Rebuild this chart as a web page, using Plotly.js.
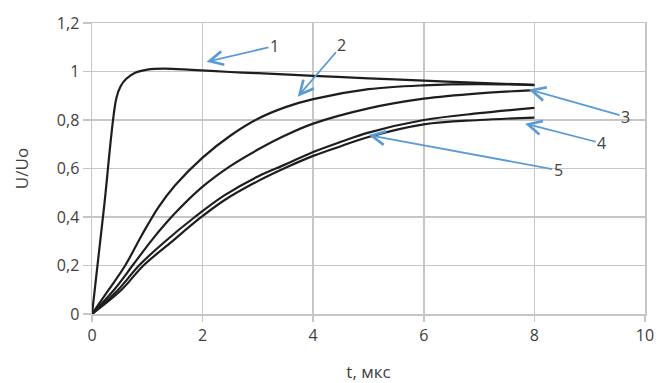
<!DOCTYPE html>
<html>
<head>
<meta charset="utf-8">
<script src="https://cdn.plot.ly/plotly-3.0.1.min.js"></script>
<style>html,body{margin:0;padding:0;background:#fff;}#chart{width:657px;height:383px;}</style>
</head>
<body>
<div id="chart"></div>
<script>
// Curve 1
var t1 = [0, 0.22, 0.44, 0.52, 0.62, 0.78, 1.0, 1.3, 1.8, 2.5, 3, 4, 5, 6, 7, 8];
var u1 = [0, 0.445, 0.89, 0.94, 0.97, 0.995, 1.008, 1.012, 1.007, 0.998, 0.993, 0.982, 0.972, 0.962, 0.953, 0.945];
// Curve 2
var t2 = [0, 0.3, 0.6, 0.9, 1.2, 1.5, 2, 2.5, 3, 3.5, 4, 5, 6, 7, 8];
var u2 = [0, 0.099, 0.2, 0.325, 0.44, 0.53, 0.645, 0.735, 0.805, 0.853, 0.886, 0.927, 0.943, 0.948, 0.944];
// Curve 3
var t3 = [0, 0.4, 0.75, 1.1, 1.5, 2, 2.5, 3, 3.5, 4, 5, 6, 7, 8];
var u3 = [0, 0.1, 0.205, 0.31, 0.415, 0.525, 0.61, 0.678, 0.737, 0.785, 0.848, 0.888, 0.91, 0.923];
// Curve 4 (upper of the pair)
var t4 = [0, 0.47, 0.85, 1.3, 1.86, 2.4, 3, 3.5, 4, 4.5, 5, 6, 7, 8];
var u4 = [0, 0.099, 0.2, 0.295, 0.4, 0.49, 0.567, 0.617, 0.668, 0.71, 0.748, 0.8, 0.828, 0.85];
// Curve 5 (lower of the pair)
var t5 = [0, 0.53, 0.93, 1.4, 1.95, 2.4, 3, 3.5, 4, 4.5, 5, 6, 7, 8];
var u5 = [0, 0.099, 0.2, 0.29, 0.395, 0.47, 0.548, 0.603, 0.652, 0.692, 0.73, 0.782, 0.8, 0.81];

var xTicks = [0, 2, 4, 6, 8, 10];
var yTicks = [0, 0.2, 0.4, 0.6, 0.8, 1, 1.2];
var labels = ['1', '2', '3', '4', '5'];

var lineStyle = {color: '#1e1e1e', width: 2.2, shape: 'spline', smoothing: 1};
var series = [[t1, u1], [t2, u2], [t3, u3], [t4, u4], [t5, u5]];
var data = series.map(function (s) {
  return {x: s[0], y: s[1], type: 'scatter', mode: 'lines', line: lineStyle, hoverinfo: 'skip'};
});

var arrowColor = '#5b9bd5';
function ann(text, hx, hy, tx, ty) {
  return {
    text: text, x: hx, y: hy, xref: 'x', yref: 'y',
    ax: tx, ay: ty, axref: 'x', ayref: 'y',
    showarrow: true, arrowhead: 5, arrowsize: 1.5, arrowwidth: 1.8,
    arrowcolor: arrowColor, standoff: 0, startstandoff: 0,
    font: {family: 'Open Sans, sans-serif', size: 16, color: '#404040'}
  };
}
var annotations = [
  ann(labels[0], 2.07, 1.04, 3.3, 1.105),
  ann(labels[1], 3.72, 0.896, 4.52, 1.108),
  ann(labels[2], 7.9, 0.926, 9.65, 0.813),
  ann(labels[3], 7.83, 0.785, 9.22, 0.704),
  ann(labels[4], 5.0, 0.738, 8.43, 0.593)
];

var gridCol = '#c6c6c6';
var tickFont = {family: 'Open Sans, sans-serif', size: 16, color: '#404040'};
var titleFont = {family: 'Open Sans, sans-serif', size: 17, color: '#404040'};
var layout = {
  width: 657, height: 383,
  margin: {l: 92, r: 12, t: 23, b: 69},
  paper_bgcolor: '#ffffff', plot_bgcolor: '#ffffff',
  separators: ', ',
  showlegend: false,
  xaxis: {
    range: [0, 10], tickvals: xTicks, ticks: 'outside', ticklen: 6, tickcolor: gridCol, tickwidth: 1.5,
    showgrid: true, gridcolor: gridCol, gridwidth: 1.5, zeroline: false,
    showline: true, mirror: true, linecolor: gridCol, linewidth: 1.5,
    tickfont: tickFont,
    title: {text: 't, мкс', font: titleFont, standoff: 24}
  },
  yaxis: {
    range: [0, 1.2], tickvals: yTicks, ticks: 'outside', ticklen: 8, tickcolor: gridCol, tickwidth: 1.5,
    showgrid: true, gridcolor: gridCol, gridwidth: 1.5, zeroline: false,
    showline: true, mirror: true, linecolor: gridCol, linewidth: 1.5,
    tickfont: tickFont,
    title: {text: 'U/Uo', font: titleFont, standoff: 24}
  },
  annotations: annotations
};

Plotly.newPlot('chart', data, layout, {displayModeBar: false, staticPlot: true});
</script>
</body>
</html>
